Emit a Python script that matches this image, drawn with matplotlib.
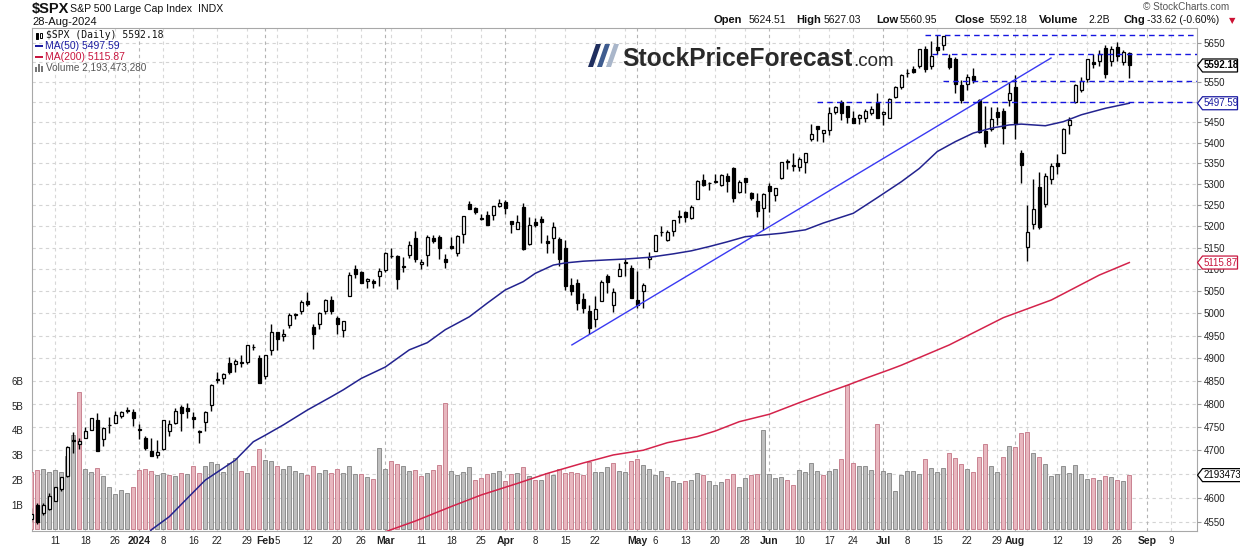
import numpy as np
import pandas as pd
import matplotlib
matplotlib.use("Agg")
import matplotlib.pyplot as plt
from matplotlib.patches import Polygon, Rectangle
from matplotlib.transforms import IdentityTransform

# NYSE sessions from 5-Dec-2023; the ones after 28-Aug only give room on the right
holidays = pd.to_datetime(["2023-12-25", "2024-01-01", "2024-01-15", "2024-02-19",
                           "2024-03-29", "2024-05-27", "2024-06-19", "2024-07-04",
                           "2024-09-02"])
sessions = pd.bdate_range("2023-12-05", "2024-09-13")
sessions = sessions[~sessions.isin(holidays)]

prev_close = 4569.78  # 4-Dec-2023 close, colours the first volume bar
last_volume = 2193473280

# daily OHLC, Dec-2023 .. 28-Aug-2024 (one row per month)
opens = [
    4557, 4586, 4568, 4576, 4593, 4618, 4646, 4722, 4714, 4726, 4744, 4764, 4724, 4753, 4758, 4773, 4786, 4782,
    4745, 4726, 4698, 4690, 4703, 4742, 4759, 4792, 4791, 4772, 4740, 4760, 4797, 4853, 4856, 4888, 4886, 4888, 4892, 4925, 4899,
    4861, 4917, 4957, 4950, 4973, 4996, 5005, 5027, 4968, 4976, 5004, 5031, 4989, 4963, 5038, 5100, 5093, 5074, 5073, 5085,
    5098, 5131, 5132, 5108, 5133, 5173, 5112, 5134, 5173, 5176, 5124, 5154, 5139, 5182, 5253, 5243, 5219, 5228, 5226, 5248,
    5257, 5212, 5194, 5245, 5158, 5211, 5217, 5167, 5172, 5171, 5150, 5065, 5068, 5032, 5005, 4988, 5028, 5085, 5019, 5085, 5114, 5103,
    5029, 5050, 5123, 5142, 5187, 5168, 5190, 5225, 5233, 5221, 5264, 5310, 5303, 5305, 5299, 5320, 5340, 5281, 5316, 5278, 5259, 5244,
    5297, 5275, 5315, 5357, 5343, 5341, 5353, 5409, 5441, 5424, 5432, 5476, 5500, 5490, 5460, 5461, 5460, 5473, 5499,
    5471, 5462, 5514, 5537, 5572, 5584, 5591, 5635, 5590, 5638, 5644, 5611, 5608, 5544, 5545, 5565, 5505, 5429, 5434, 5477, 5479, 5505,
    5538, 5376, 5151, 5206, 5293, 5253, 5313, 5351, 5376, 5443, 5501, 5531, 5557, 5602, 5604, 5637, 5603, 5639, 5602, 5624.51,
]
highs = [
    4578, 4590, 4590, 4610, 4623, 4644, 4709, 4738, 4726, 4749, 4769, 4779, 4749, 4772, 4784, 4785, 4793, 4788,
    4755, 4730, 4727, 4721, 4764, 4765, 4790, 4798, 4802, 4782, 4744, 4785, 4842, 4868, 4866, 4903, 4898, 4906, 4929, 4932, 4906,
    4906, 4975, 4958, 4964, 5000, 5000, 5031, 5048, 4975, 5003, 5032, 5039, 4994, 4983, 5094, 5111, 5097, 5080, 5077, 5104,
    5140, 5149, 5134, 5128, 5165, 5189, 5125, 5180, 5180, 5180, 5136, 5175, 5180, 5225, 5261, 5246, 5229, 5236, 5249, 5264,
    5263, 5213, 5228, 5256, 5222, 5219, 5224, 5179, 5211, 5175, 5168, 5080, 5077, 5046, 5019, 5038, 5076, 5089, 5057, 5114, 5124, 5110,
    5096, 5069, 5140, 5181, 5200, 5191, 5215, 5239, 5237, 5250, 5311, 5325, 5306, 5325, 5324, 5326, 5342, 5311, 5316, 5282, 5280, 5280,
    5302, 5292, 5354, 5362, 5376, 5366, 5375, 5447, 5442, 5432, 5488, 5490, 5505, 5490, 5479, 5472, 5483, 5491, 5524,
    5479, 5510, 5540, 5571, 5584, 5590, 5635, 5642, 5655, 5670, 5667, 5622, 5614, 5555, 5570, 5586, 5509, 5491, 5488, 5488, 5487, 5551,
    5567, 5383, 5250, 5312, 5330, 5326, 5351, 5372, 5436, 5464, 5546, 5562, 5608, 5620, 5632, 5643, 5641, 5651, 5632, 5627.03,
]
lows = [
    4551, 4546, 4565, 4574, 4593, 4614, 4643, 4694, 4702, 4725, 4744, 4698, 4708, 4736, 4758, 4768, 4780, 4751,
    4723, 4700, 4687, 4683, 4700, 4730, 4756, 4740, 4769, 4748, 4715, 4741, 4785, 4844, 4842, 4865, 4870, 4881, 4887, 4917, 4845,
    4853, 4907, 4918, 4938, 4966, 4988, 4998, 5017, 4920, 4964, 4999, 4999, 4954, 4946, 5038, 5081, 5068, 5058, 5058, 5062,
    5094, 5127, 5056, 5093, 5126, 5117, 5102, 5108, 5161, 5123, 5104, 5148, 5131, 5161, 5240, 5229, 5216, 5203, 5214, 5246,
    5230, 5185, 5194, 5146, 5157, 5198, 5161, 5138, 5139, 5107, 5053, 5041, 5007, 5001, 4953, 4969, 5027, 5047, 5002, 5084, 5086, 5035,
    5013, 5011, 5104, 5142, 5178, 5165, 5178, 5209, 5211, 5218, 5264, 5297, 5286, 5303, 5297, 5281, 5257, 5278, 5279, 5262, 5222, 5192,
    5234, 5261, 5312, 5336, 5331, 5331, 5327, 5404, 5404, 5403, 5420, 5471, 5455, 5448, 5448, 5447, 5451, 5469, 5460,
    5445, 5462, 5510, 5532, 5563, 5574, 5587, 5576, 5584, 5621, 5631, 5584, 5522, 5497, 5530, 5549, 5425, 5390, 5430, 5444, 5398, 5491,
    5410, 5302, 5120, 5194, 5195, 5246, 5301, 5324, 5376, 5422, 5497, 5525, 5551, 5585, 5591, 5561, 5591, 5603, 5593, 5560.95,
]
closes = [
    4567.18, 4549.34, 4585.59, 4604.37, 4622.44, 4643.70, 4707.09, 4719.55, 4719.19, 4740.56, 4768.37, 4698.35,
    4746.75, 4754.63, 4774.75, 4781.58, 4783.35, 4769.83,
    4742.83, 4704.81, 4688.68, 4697.24, 4763.54, 4756.50, 4783.45, 4780.24, 4783.83, 4765.98, 4739.21, 4780.94,
    4839.81, 4850.43, 4864.60, 4868.55, 4894.16, 4890.97, 4927.93, 4924.97, 4845.65,
    4906.19, 4958.61, 4942.81, 4954.23, 4995.06, 4997.91, 5026.61, 5021.84, 4953.17, 5000.62, 5029.73, 5005.57,
    4975.51, 4981.80, 5087.03, 5088.80, 5069.53, 5078.18, 5069.76, 5096.27,
    5137.08, 5130.95, 5078.65, 5104.76, 5157.36, 5123.69, 5117.94, 5175.27, 5165.31, 5150.48, 5117.09, 5149.42,
    5178.51, 5224.62, 5241.53, 5234.18, 5218.19, 5203.58, 5248.49, 5254.35,
    5243.77, 5205.81, 5211.49, 5147.21, 5204.34, 5202.39, 5209.91, 5160.64, 5199.06, 5123.41, 5061.82, 5051.41,
    5022.21, 5011.12, 4967.23, 5010.60, 5070.55, 5071.63, 5048.42, 5099.96, 5116.17, 5035.69,
    5018.39, 5064.20, 5127.79, 5180.74, 5187.70, 5187.67, 5214.08, 5222.68, 5221.42, 5246.68, 5308.15, 5297.10,
    5303.27, 5308.13, 5321.41, 5307.01, 5267.84, 5304.72, 5306.04, 5266.95, 5235.48, 5277.51,
    5283.40, 5291.34, 5354.03, 5352.96, 5346.99, 5360.79, 5375.32, 5421.03, 5433.74, 5431.60, 5473.23, 5487.03,
    5473.17, 5464.62, 5447.87, 5469.30, 5477.90, 5482.87, 5460.48,
    5475.09, 5509.01, 5537.02, 5567.19, 5572.85, 5576.98, 5633.91, 5584.54, 5615.35, 5631.22, 5667.20, 5588.27,
    5544.59, 5505.00, 5564.41, 5555.74, 5427.13, 5399.22, 5459.10, 5463.54, 5436.44, 5522.30,
    5446.68, 5346.56, 5186.33, 5240.03, 5199.50, 5319.31, 5344.16, 5344.39, 5434.43, 5455.21, 5543.22, 5554.25,
    5608.25, 5597.12, 5620.85, 5570.64, 5634.61, 5616.84, 5625.80, 5592.18,
]
# volume in billions of shares
volumes = [
    2.31, 2.41, 2.43, 2.31, 2.41, 2.31, 2.98, 3.82, 5.54, 2.45, 2.31, 2.47, 2.17, 1.71, 1.43, 1.60, 1.48, 1.71,
    2.41, 2.45, 2.35, 2.20, 2.27, 2.20, 2.17, 2.27, 2.23, 2.57, 2.28, 2.56, 2.73, 2.64, 2.31, 2.68, 2.88, 2.37, 2.28, 2.56, 3.25,
    2.80, 2.76, 2.56, 2.45, 2.56, 2.37, 2.27, 2.20, 2.56, 2.27, 2.41, 2.27, 2.45, 2.27, 2.56, 2.23, 2.23, 2.11, 2.04, 3.29,
    2.45, 2.76, 2.64, 2.56, 2.37, 2.41, 2.17, 2.28, 2.41, 2.60, 5.10, 2.35, 2.19, 2.31, 2.51, 2.01, 2.08, 2.23, 2.27, 2.35,
    1.96, 2.23, 2.27, 2.51, 2.16, 2.01, 2.01, 2.27, 2.19, 2.43, 2.27, 2.31, 2.27, 2.19, 2.71, 2.31, 2.31, 2.51, 2.67, 2.35, 2.31, 2.76,
    2.83, 2.60, 2.43, 2.19, 2.35, 2.11, 1.96, 1.88, 1.96, 2.01, 2.27, 2.19, 1.96, 1.79, 1.92, 2.04, 2.23, 1.71, 2.08, 2.19, 2.23, 4.01,
    2.23, 2.08, 2.11, 1.99, 1.79, 2.40, 2.31, 2.67, 2.35, 2.19, 2.35, 2.43, 2.83, 5.84, 2.67, 2.56, 2.56, 2.40, 4.25,
    2.35, 2.27, 1.55, 2.19, 2.35, 2.35, 2.23, 2.83, 2.47, 2.31, 2.47, 3.08, 2.88, 2.64, 2.43, 2.31, 2.91, 3.45, 2.56, 2.31, 2.91, 3.37,
    3.33, 3.89, 3.93, 3.08, 2.91, 2.64, 2.16, 2.23, 2.56, 2.27, 2.60, 2.23, 2.04, 2.08, 1.99, 2.16, 2.11, 1.99, 1.96, 2.193,
]

# moving averages: session number (0 = 5-Dec-2023) and value
ma50_x = [19, 20, 23, 26, 29, 34, 37, 39, 42, 46, 50, 52, 55, 59, 63, 66, 69, 73, 76, 79, 82, 84, 87, 89, 92, 96,
          99, 103, 107, 110, 113, 116, 119, 122, 125, 129, 132, 137, 141, 145, 148, 151, 154, 157, 160, 163, 165,
          169, 172, 175, 179, 183]
ma50 = [4515, 4534, 4561, 4599, 4637, 4679, 4718, 4732, 4754, 4786, 4815, 4830, 4855, 4880, 4918, 4934, 4963, 4992,
        5023, 5053, 5072, 5091, 5110, 5115, 5119, 5122, 5124, 5128, 5136, 5143, 5153, 5164, 5176, 5180, 5184, 5192,
        5208, 5231, 5268, 5306, 5338, 5379, 5403, 5424, 5436, 5444, 5446, 5442, 5452, 5469, 5485, 5497.59]
ma200_x = [59, 64, 70, 75, 81, 86, 92, 97, 102, 106, 111, 114, 118, 123, 128, 133, 136, 139, 143, 145, 153, 162,
           170, 178, 183]
ma200 = [4530, 4552, 4582, 4606, 4630, 4651, 4673, 4690, 4700, 4716, 4729, 4741, 4761, 4777, 4802, 4826, 4840, 4855,
         4874, 4884, 4929, 4990, 5030, 5087, 5115.87]

# drawn annotations: trend line and the dashed resistance/support levels
trend_x = [90.1, 169.95]
trend_y = [4929, 5611]
levels = [5669, 5620, 5552, 5501]
level_start = [149.0, 150.1, 151.9, 130.9]

tick_dates = ["2023-12-11", "2023-12-18", "2023-12-26", "2024-01-02", "2024-01-08", "2024-01-16", "2024-01-22",
              "2024-01-29", "2024-02-01", "2024-02-05", "2024-02-12", "2024-02-20", "2024-02-26", "2024-03-01",
              "2024-03-11", "2024-03-18", "2024-03-25", "2024-04-01", "2024-04-08", "2024-04-15", "2024-04-22",
              "2024-05-01", "2024-05-06", "2024-05-13", "2024-05-20", "2024-05-28", "2024-06-03", "2024-06-10",
              "2024-06-17", "2024-06-24", "2024-07-01", "2024-07-08", "2024-07-15", "2024-07-22", "2024-07-29",
              "2024-08-01", "2024-08-12", "2024-08-19", "2024-08-26", "2024-09-03", "2024-09-09"]
tick_labels = ["11", "18", "26", "2024", "8", "16", "22", "29", "Feb", "5", "12", "20", "26", "Mar", "11", "18",
               "25", "Apr", "8", "15", "22", "May", "6", "13", "20", "28", "Jun", "10", "17", "24", "Jul", "8",
               "15", "22", "29", "Aug", "12", "19", "26", "Sep", "9"]

price_ticks = list(range(4550, 5651, 50))
hidden_ticks = [4650, 5500, 5600]  # sit under the tags on the right axis
vol_ticks = [1, 2, 3, 4, 5, 6]

W, H = 1240, 546
FONT = "Liberation Sans"
plt.rcParams["font.family"] = [FONT, "DejaVu Sans"]

o = np.array(opens, float)
h = np.array(highs, float)
l = np.array(lows, float)
c = np.array(closes, float)
v = np.array(volumes, float) * 1e9
x = np.arange(len(c))

fig = plt.figure(figsize=(W / 100, H / 100), dpi=100)
rect = [32.3 / W, 1 - 530.7 / H, (1196.7 - 32.3) / W, (530.7 - 28.3) / H]
ax_bg = fig.add_axes(rect)
ax_vol = fig.add_axes(rect, sharex=ax_bg)
ax = fig.add_axes(rect, sharex=ax_bg, sharey=ax_bg)
ax_bg.set_zorder(0)
ax_vol.set_zorder(1)
ax.set_zorder(2)
ax_vol.patch.set_visible(False)
ax.patch.set_visible(False)

ax.set_yscale("log")
ax.set_ylim(4532.2, 5686.9)
ax.set_xlim(0.17, 194.23)
ax_vol.set_ylim(-0.05e9, 20.23e9)

# grid (bottom layer)
week_starts = [i for i in range(1, len(sessions)) if sessions[i].weekday() < sessions[i - 1].weekday()]
month_starts = [i for i in range(1, len(sessions)) if sessions[i].month != sessions[i - 1].month]
for p in price_ticks:
    ax_bg.axhline(p, color="#d4d4d4", lw=0.8, ls=(0, (3, 3)))
for i in week_starts:
    if i not in month_starts:
        ax_bg.axvline(i, color="#d8d8d8", lw=0.8, ls=(0, (3, 3)))
for i in month_starts:
    ax_bg.axvline(i, color="#b4b4b4", lw=0.8, ls=(0, (3, 3)))
for s in ax_bg.spines.values():
    s.set_color("#a8a8a8")
    s.set_linewidth(0.8)
ax_bg.tick_params(left=False, bottom=False, labelleft=False, labelbottom=False)
for a in (ax, ax_vol):
    for s in a.spines.values():
        s.set_visible(False)

# volume
prev = np.concatenate([[prev_close], c[:-1]])
down = c < prev
ax_vol.bar(x, v, width=0.62, color=np.where(down, "#e8b7bf", "#bfbfbf"),
           edgecolor=np.where(down, "#c98391", "#8f8f8f"), linewidth=0.7)
ax_vol.set_yticks([t * 1e9 for t in vol_ticks])
ax_vol.set_yticklabels([f"{t}B" for t in vol_ticks])
ax_vol.tick_params(axis="y", left=False, labelsize=7, pad=3, labelcolor="#222222")
ax_vol.tick_params(axis="x", bottom=False, labelbottom=False)

# candles
ax.vlines(x, l, h, color="black", lw=1, zorder=3)
body_lo = np.minimum(o, c)
body_hi = np.maximum(o, c)
ax.bar(x, body_hi - body_lo, bottom=body_lo, width=0.55,
       color=np.where(c < o, "black", "white"), edgecolor="black", linewidth=0.9, zorder=4)

# overlays
ax.plot(ma50_x, ma50, color="#23238f", lw=1.1, zorder=5)
ax.plot(ma200_x, ma200, color="#d4234b", lw=1.1, zorder=5)
ax.plot(trend_x, trend_y, color="#3a3af2", lw=1.0, zorder=5)
for lvl, st in zip(levels, level_start):
    ax.hlines(lvl, st, 194.23, colors="#1515e0", linestyles=(0, (4, 3)), lw=1.0, zorder=5)

# axes ticks
ax.yaxis.tick_right()
ax.set_yticks(price_ticks)
ax.set_yticklabels(["" if p in hidden_ticks else str(p) for p in price_ticks])
ax.yaxis.set_minor_locator(matplotlib.ticker.NullLocator())
ax.tick_params(axis="y", which="major", length=3, color="#999999", labelsize=7, pad=2, labelcolor="#222222")
tick_pos = [sessions.get_loc(pd.Timestamp(d)) for d in tick_dates]
ax.set_xticks(tick_pos)
ax.set_xticklabels(tick_labels)
ax.tick_params(axis="x", length=0, labelsize=7, pad=4, labelcolor="#222222")
for lab in ax.get_xticklabels():
    if not lab.get_text().isdigit() or lab.get_text() == "2024":
        lab.set_fontweight("bold")
        lab.set_fontsize(7.5)

# price tags on the right axis
def tag(ypix, label, color, bold=False, width=40):
    x0 = 1197.5
    pts = [(x0, ypix), (x0 + 5, ypix + 6.5), (x0 + width, ypix + 6.5),
           (x0 + width, ypix - 6.5), (x0 + 5, ypix - 6.5)]
    fig.add_artist(Polygon(pts, closed=True, fc="white", ec=color, lw=0.9,
                           transform=IdentityTransform(), zorder=20))
    fig.text((x0 + 6) / W, ypix / H, label, color=color, fontsize=7,
             fontweight="bold" if bold else "normal", va="center", ha="left", zorder=21)

tag(ax.transData.transform((0, c[-1]))[1], f"{c[-1]:.2f}", "black", bold=True)
tag(ax.transData.transform((0, ma50[-1]))[1], f"{ma50[-1]:.2f}", "#1a1aa0")
tag(ax.transData.transform((0, ma200[-1]))[1], f"{ma200[-1]:.2f}", "#c8163f")
# the volume tag runs off the right edge; only its first seven digits show
tag(ax_vol.transData.transform((0, last_volume))[1], str(last_volume)[:7], "black", width=50)

# header
def ftext(px, py, s, **kw):
    return fig.text(px / W, 1 - py / H, s, va="center", ha=kw.pop("ha", "left"), **kw)

ftext(32, 9, "$SPX", fontsize=10.5, fontweight="bold", color="#111111")
ftext(70, 9.5, "S&P 500 Large Cap Index", fontsize=7.6, color="#111111")
ftext(198, 9.5, "INDX", fontsize=7.6, color="#111111")
ftext(32, 22, "28-Aug-2024", fontsize=8, color="#111111")
ftext(1229, 7, "\u00a9 StockCharts.com", fontsize=7.2, color="#555555", ha="right")

hdr = [("Open", True, 713), ("5624.51", False, 748.8), ("High", True, 796.7), ("5627.03", False, 823.5),
       ("Low", True, 875.9), ("5560.95", False, 899.6), ("Close", True, 954.3), ("5592.18", False, 989.4),
       ("Volume", True, 1039), ("2.2B", False, 1088), ("Chg", True, 1123), ("-33.62 (-0.60%)", False, 1146.6)]
for s, b, px in hdr:
    ftext(px, 20, s, fontsize=8 if b else 7.5, fontweight="bold" if b else "normal", color="#111111")
ftext(1229, 20.5, "\u25bc", fontsize=6, color="#cc1133", family="DejaVu Sans")

# legend block inside the chart
ftext(46, 35, "$SPX (Daily) 5592.18", fontsize=7, family="DejaVu Sans Mono", color="#111111")
ftext(45, 46, "MA(50) 5497.59", fontsize=7.5, color="#1a1aa0")
ftext(45, 57, "MA(200) 5115.87", fontsize=7.5, color="#c8163f")
ftext(46, 68, "Volume 2,193,473,280", fontsize=7.2, color="#555555")
idt = IdentityTransform()
for x0, y0, hh, fc in [(35.5, H - 39, 6, "black"), (39.5, H - 38, 5, "white")]:
    fig.add_artist(Rectangle((x0, y0), 2.5, hh, fc=fc, ec="black", lw=0.7, transform=idt, zorder=20))
fig.add_artist(Rectangle((35, H - 46.8), 8, 2, fc="#1a1aa0", ec="none", transform=idt, zorder=20))
fig.add_artist(Rectangle((35, H - 57.8), 8, 2, fc="#c8163f", ec="none", transform=idt, zorder=20))
for x0, hh in [(35, 5), (38, 8), (41, 6)]:
    fig.add_artist(Rectangle((x0, H - 72), 2.2, hh, fc="#777777", ec="none", transform=idt, zorder=20))

# StockPriceForecast.com watermark
for x0, col in [(588, "#1f2e5e"), (597, "#3f5c8f"), (606, "#a9b6ca")]:
    fig.add_artist(Polygon([(x0, H - 67), (x0 + 5, H - 67), (x0 + 13, H - 44), (x0 + 8, H - 44)],
                           closed=True, fc=col, ec="none", transform=idt, zorder=20))
logo = fig.text(622 / W, 1 - 66 / H, "StockPriceForecast", fontsize=17.7, fontweight="bold",
                color="#2a2a2a", va="baseline", zorder=20)
bb = logo.get_window_extent(renderer=fig.canvas.get_renderer())
fig.text((bb.x1 + 1) / W, 1 - 66 / H, ".com", fontsize=13.5, color="#2a2a2a", va="baseline", zorder=20)

fig.savefig("out.png", dpi=100)
